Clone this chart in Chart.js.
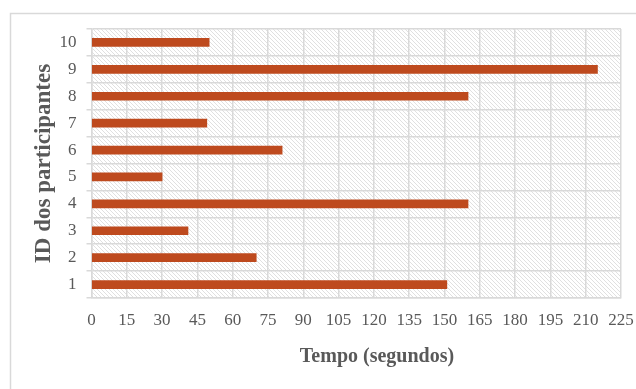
<!DOCTYPE html>
<html>
<head>
<meta charset="utf-8">
<script src="https://cdn.jsdelivr.net/npm/chart.js@4/dist/chart.umd.min.js"></script>
<style>
  html, body { margin: 0; padding: 0; background: #ffffff; }
  #wrap { width: 636px; height: 389px; position: relative; }
</style>
</head>
<body>
<div id="wrap"><canvas id="chart" width="636" height="389"></canvas></div>
<script>
// Participant IDs and the time each one took, in seconds
const participantIds = ['1', '2', '3', '4', '5', '6', '7', '8', '9', '10'];
const timeSeconds = [151, 70, 41, 160, 30, 81, 49, 160, 215, 50];
const xTickMin = 0;
const xTickMax = 225;
const xTickStep = 15;
const yAxisTitle = 'ID dos participantes';
const xAxisTitle = 'Tempo (segundos)';

const textGray = '#595959';
const gridGray = '#d9d9d9';
const serif = '"Liberation Serif", "DejaVu Serif", serif';

// Light diagonal hatch used as the plot background
function makeHatch(ctx) {
  const tile = document.createElement('canvas');
  tile.width = 4; tile.height = 4;
  const t = tile.getContext('2d');
  t.fillStyle = '#ffffff';
  t.fillRect(0, 0, 4, 4);
  t.strokeStyle = '#e0e0e0';
  t.lineWidth = 1;
  t.beginPath();
  t.moveTo(-1, -1); t.lineTo(5, 5);
  t.moveTo(-1, 3); t.lineTo(1, 5);
  t.moveTo(3, -1); t.lineTo(5, 1);
  t.stroke();
  return ctx.createPattern(tile, 'repeat');
}

const backdrop = {
  id: 'backdrop',
  beforeDraw(chart) {
    const { ctx, chartArea: a } = chart;
    ctx.save();
    ctx.fillStyle = '#ffffff';
    ctx.fillRect(0, 0, chart.width, chart.height);
    // outer frame of the chart object
    ctx.strokeStyle = gridGray;
    ctx.lineWidth = 1.5;
    ctx.strokeRect(10.5, 13.5, 800, 600);
    ctx.fillStyle = makeHatch(ctx);
    ctx.fillRect(a.left, a.top, a.right - a.left, a.bottom - a.top);
    ctx.restore();
  },
  afterDraw(chart) {
    const { ctx } = chart;
    ctx.save();
    ctx.fillStyle = textGray;
    ctx.font = 'bold 20px ' + serif;
    ctx.textAlign = 'center';
    ctx.textBaseline = 'middle';
    ctx.fillText(xAxisTitle, 377, 357);
    ctx.restore();
  }
};

new Chart(document.getElementById('chart'), {
  type: 'bar',
  data: {
    labels: participantIds,
    datasets: [{
      data: timeSeconds,
      backgroundColor: '#be4a1e',
      borderWidth: 0,
      barThickness: 8
    }]
  },
  options: {
    indexAxis: 'y',
    responsive: false,
    animation: false,
    layout: { padding: { left: 0, top: 29, right: 15, bottom: 0 } },
    plugins: {
      legend: { display: false },
      tooltip: { enabled: false }
    },
    scales: {
      x: {
        min: xTickMin,
        max: xTickMax,
        afterFit(scale) {
          scale.height = 91;
          scale.paddingLeft = 0;
          scale.paddingRight = 0;
        },
        ticks: {
          stepSize: xTickStep,
          color: textGray,
          font: { family: serif, size: 17 },
          padding: 12,
          maxRotation: 0,
          autoSkip: false
        },
        grid: { color: gridGray, lineWidth: 1.5, drawTicks: false },
        border: { color: gridGray, width: 1.5 }
      },
      y: {
        reverse: true,
        afterFit(scale) {
          scale.width = 91.5;
          scale.paddingTop = 0;
          scale.paddingBottom = 0;
        },
        ticks: {
          color: textGray,
          font: { family: serif, size: 17 },
          padding: 10
        },
        grid: { color: gridGray, lineWidth: 1.5, offset: true, tickLength: 5 },
        border: { color: gridGray, width: 1.5 },
        title: {
          display: true,
          text: yAxisTitle,
          color: textGray,
          font: { family: serif, size: 23, weight: 'bold' },
          padding: { top: 30, bottom: 0 }
        }
      }
    }
  },
  plugins: [backdrop]
});
</script>
</body>
</html>
